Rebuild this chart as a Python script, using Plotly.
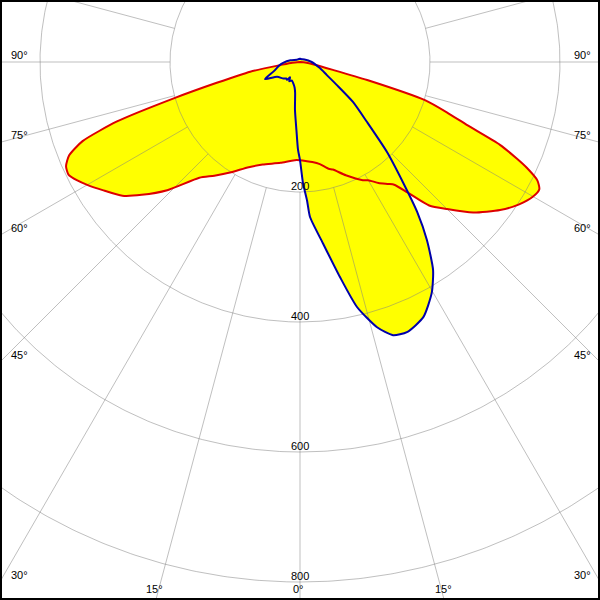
import numpy as np
import plotly.graph_objects as go

# Luminous intensity distribution (cd), gamma in degrees, 0 = nadir
# C0-C180 plane (red)
red_gamma = [-90, -85, -81, -79, -76, -74, -72, -70, -68, -66, -64, -62, -60, -57, -53, -50,
             -46, -41, -37, -32, -26, -20, -11, -2, 4, 7, 11, 15, 17, 22, 28, 30, 33, 36,
             37.5, 39.5, 42, 45, 49, 53.5, 57, 60, 62, 63.5, 65, 66, 67.5, 69.3, 71, 73,
             75, 76.5, 80, 85, 90]
red_cd = [0, 12, 31, 78, 132, 200, 296, 356, 383, 394, 396, 388, 378, 362, 342, 318,
          284, 236, 219, 200, 180, 168, 158, 151, 153, 155, 160, 170, 173, 188, 206, 210, 222, 232,
          238, 260, 297, 320, 353, 383, 402, 414, 417, 408, 385, 365, 333, 275, 240, 201,
          107, 52, 20, 8, 0]

# C90-C270 plane (blue)
blue_gamma = [-180, -150, -125, -100, -87, -80, -71, -64, -57, -45, -40, -36, -33, -29, -24,
              -18, -12, -9, -6, -3, -1.3, 0, 1.4, 2.9, 3.7, 7.2, 10.5, 13.1, 16.2, 18.8, 21.6,
              25.8, 29.7, 32.6, 35.5, 38, 40.6, 44, 48.2, 53, 58, 64, 73, 90, 120, 150, 180]
blue_cd = [5, 5, 6, 15, 26, 33, 42, 60, 42, 36, 33, 34, 28, 34, 31,
           34, 40, 48, 74, 105, 135, 151, 186, 213, 239, 281, 336, 387, 425, 444, 447,
           436, 409, 380, 336, 293, 243, 193, 138, 102, 67, 46, 32, 18, 8, 5, 5]

ring_values = [200, 400, 600, 800]
spoke_angles = list(range(-180, 181, 15))
angle_label_values = [90, 75, 60, 45, 30, 15, 0]

assert len(red_gamma) == len(red_cd)
assert len(blue_gamma) == len(blue_cd)

W = H = 600
PX = 0.65          # pixels per cd
CX, CY = 300, 62   # pixel position of the pole

def to_xy(g, r):
    g = np.radians(np.asarray(g, float))
    r = np.asarray(r, float)
    return r * np.sin(g), -r * np.cos(g)

fig = go.Figure()

rx, ry = to_xy(red_gamma, red_cd)
bx, by = to_xy(blue_gamma, blue_cd)
SM = 0.6
for x, y in ((rx, ry), (bx, by)):
    fig.add_trace(go.Scatter(x=np.append(x, x[0]), y=np.append(y, y[0]), mode="lines",
                             fill="toself", fillcolor="#ffff00",
                             line=dict(width=0, shape="spline", smoothing=SM),
                             hoverinfo="skip", showlegend=False))

# grid
gc = "rgba(128,128,128,0.5)"
t = np.linspace(0, 360, 721)
cxs, cys = [], []
for rv in ring_values:
    x, y = to_xy(t, np.full_like(t, rv))
    cxs += list(x) + [None]
    cys += list(y) + [None]
fig.add_trace(go.Scatter(x=cxs, y=cys, mode="lines", line=dict(color=gc, width=1),
                         hoverinfo="skip", showlegend=False))
sxs, sys_ = [], []
for a in spoke_angles:
    x, y = to_xy([a, a], [ring_values[0], 1200])
    sxs += list(x) + [None]
    sys_ += list(y) + [None]
fig.add_trace(go.Scatter(x=sxs, y=sys_, mode="lines", line=dict(color=gc, width=1),
                         hoverinfo="skip", showlegend=False))

for x, y, c in ((rx, ry, "#dd0000"), (bx, by, "#0000aa")):
    fig.add_trace(go.Scatter(x=np.append(x, x[0]), y=np.append(y, y[0]), mode="lines",
                             line=dict(color=c, width=2, shape="spline", smoothing=SM),
                             hoverinfo="skip", showlegend=False))

FONT = dict(family="Liberation Sans, Arial, sans-serif", size=11, color="black")
ann = []
for rv in ring_values:
    ann.append(dict(x=0, y=-rv, xref="x", yref="y", text=str(rv), showarrow=False,
                    xanchor="center", yanchor="middle", yshift=6.5, font=FONT))

def paper(px, py):
    return px / W, 1 - py / H

for a in angle_label_values:
    ar = np.radians(a)
    txt = f"{a}°"
    if a == 90:
        yl = CY
        hit_side = True
    elif a == 0:
        hit_side = False
    else:
        yl = CY + CX / np.tan(ar)
        hit_side = yl < H
    if hit_side:
        for side in (-1, 1):
            px = 9 if side < 0 else 572
            xp, yp = paper(px, yl - 7)
            ann.append(dict(x=xp, y=yp, xref="paper", yref="paper", text=txt,
                            showarrow=False, xanchor="left", yanchor="middle", font=FONT))
    else:
        for side in ((-1, 1) if a != 0 else (0,)):
            px = CX + side * ((H - CY) * np.tan(ar)) - (2 if a == 0 else 1)
            xp, yp = paper(px, H - 11)
            ann.append(dict(x=xp, y=yp, xref="paper", yref="paper", text=txt,
                            showarrow=False, xanchor="center", yanchor="middle", font=FONT))

xr = CX / PX
fig.update_layout(
    width=W, height=H, margin=dict(l=0, r=0, t=0, b=0),
    paper_bgcolor="white", plot_bgcolor="white",
    xaxis=dict(range=[-xr, xr], visible=False, fixedrange=True),
    yaxis=dict(range=[-(H - CY) / PX, CY / PX], visible=False, fixedrange=True),
    annotations=ann,
    shapes=[dict(type="rect", xref="paper", yref="paper", x0=0, y0=0, x1=1, y1=1,
                 line=dict(color="black", width=4), layer="above")],
)

fig.write_html("out.html", config={"displayModeBar": False},
               post_script="document.body.style.margin='0';document.body.style.overflow='hidden';")
